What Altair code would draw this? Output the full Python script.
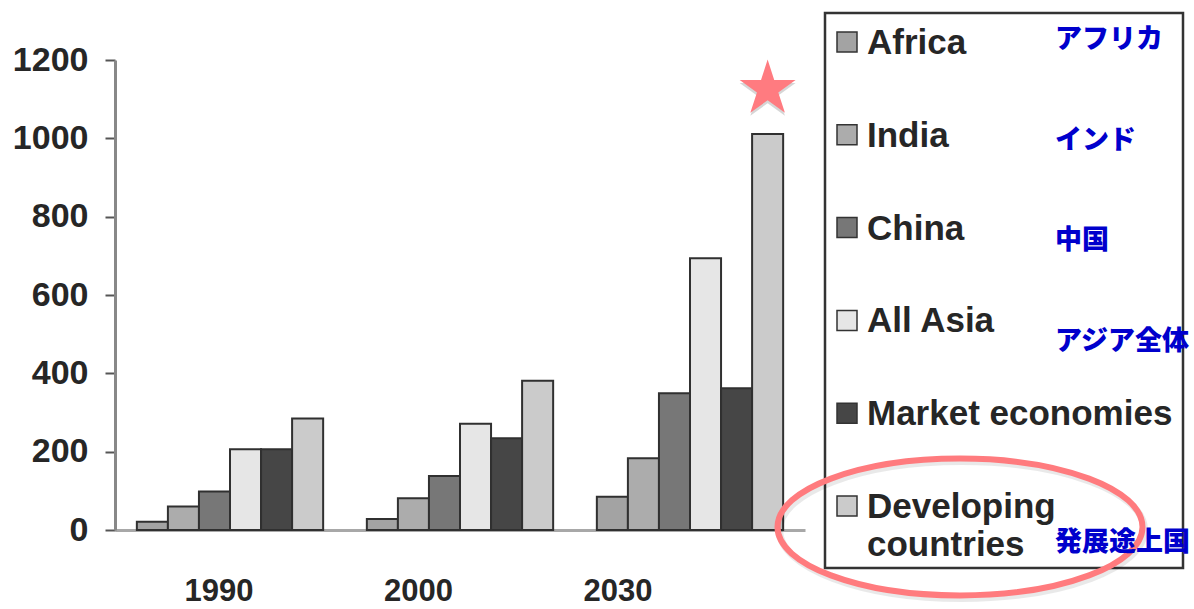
import altair as alt
import pandas as pd

# ---- data -------------------------------------------------------------
years = ["1990", "2000", "2030"]
series = ["Africa", "India", "China", "All Asia", "Market economies", "Developing countries"]
series_ja = ["アフリカ", "インド", "中国", "アジア全体", "", "発展途上国"]
legend_labels = ["Africa", "India", "China", "All Asia", "Market economies", "Developing\ncountries"]

africa = [21, 28, 85]
india = [60, 81, 183]
china = [98, 138, 349]
all_asia = [206, 271, 694]
market = [206, 234, 362]
developing = [285, 381, 1011]

y_ticks = [0, 200, 400, 600, 800, 1000, 1200]

# ---- styling ----------------------------------------------------------
fills = ["#a3a3a3", "#acacac", "#777777", "#e6e6e6", "#464646", "#cbcbcb"]
LATIN = "Liberation Sans"
CJK = "Noto Sans CJK JP"
TEXT = "#262626"

STAR = ("M0,-1 L0.2245,-0.309 L0.951,-0.309 L0.363,0.118 L0.588,0.809 "
        "L0,0.382 L-0.588,0.809 L-0.363,0.118 L-0.951,-0.309 L-0.2245,-0.309 Z")
ELLIPSE = "M-1,0 A1,0.375 0 1 1 1,0 A1,0.375 0 1 1 -1,0 Z"

rows = []
for name, vals in zip(series, [africa, india, china, all_asia, market, developing]):
    for yr, v in zip(years, vals):
        rows.append({"year": yr, "series": name, "value": v})
df = pd.DataFrame(rows)

legend_df = pd.DataFrame({"series": series, "label": legend_labels, "ja": series_ja})
year_df = pd.DataFrame({"year": years})
star_df = pd.DataFrame({"year": [years[2]], "series": [series[5]], "value": [developing[2]]})
one = pd.DataFrame({"k": [0]})

color = alt.Scale(domain=series, range=fills)


def x_band():
    return alt.Scale(domain=years, paddingInner=0.19, paddingOuter=0.095)


def offset_band():
    return alt.Scale(domain=series, paddingInner=0, paddingOuter=0)


def y_lin():
    return alt.Scale(domain=[0, 1200], nice=False)


# ---- grouped bars -----------------------------------------------------
bars = alt.Chart(df).mark_bar(stroke="#303030", strokeWidth=2).encode(
    x=alt.X("year:N", scale=x_band(),
            axis=alt.Axis(title=None, labels=False, ticks=False,
                          domainColor="#a8a8a8", domainWidth=3)),
    xOffset=alt.XOffset("series:N", scale=offset_band()),
    y=alt.Y("value:Q", scale=y_lin(),
            axis=alt.Axis(title=None, values=y_ticks, format="d", grid=False,
                          ticks=True, tickSize=10, tickWidth=2, tickColor="#555555",
                          domainColor="#888888", domainWidth=3,
                          labelFont=LATIN, labelFontWeight="bold",
                          labelFontSize=34, labelColor=TEXT, labelPadding=17)),
    fill=alt.Fill("series:N", scale=color, legend=None),
)


def star_layer(fill, opacity, dy):
    return alt.Chart(star_df).mark_point(
        shape=STAR, size=3460, filled=True, fill=fill, fillOpacity=opacity, strokeWidth=0
    ).encode(
        x=alt.X("year:N", scale=x_band(), axis=None),
        xOffset=alt.XOffset("series:N", scale=offset_band()),
        y=alt.Y("value:Q", scale=y_lin(), axis=None),
        yOffset=alt.value(dy),
    )


star_shadow = star_layer("#000000", 0.16, -42)
star = star_layer("#ff7b80", 1, -45)

# ---- year labels under the groups ---------------------------------------
year_labels = alt.Chart(year_df).mark_text(
    font=LATIN, fontWeight="bold", fontSize=31, color=TEXT, align="center", baseline="middle"
).encode(
    x=alt.X("year:N", scale=alt.Scale(type="point", domain=years, range=[104, 503], padding=0), axis=None),
    y=alt.value(532),
    text="year:N",
)

# ---- legend panel -------------------------------------------------------
legend_y = alt.Scale(type="point", domain=series, range=[-18, 446], padding=0)

box = alt.Chart(one).mark_rect(fill="white", stroke="#333333", strokeWidth=2.5).encode(
    x=alt.value(710), x2=alt.value(1068), y=alt.value(-47), y2=alt.value(508)
)
swatches = alt.Chart(legend_df).mark_square(size=400, stroke="#333333", strokeWidth=1.5, opacity=1).encode(
    x=alt.value(732),
    y=alt.Y("series:N", scale=legend_y, axis=None),
    fill=alt.Fill("series:N", scale=color, legend=None),
)
labels = alt.Chart(legend_df).mark_text(
    font=LATIN, fontWeight="bold", fontSize=35, color=TEXT, align="left",
    baseline="alphabetic", dy=12, lineBreak="\n", lineHeight=38
).encode(
    x=alt.value(752),
    y=alt.Y("series:N", scale=legend_y, axis=None),
    text="label:N",
)

# ---- highlight ring and Japanese names ----------------------------------
ring_shadow = alt.Chart(one).mark_point(
    shape=ELLIPSE, size=133225, filled=False, stroke="#000000", strokeOpacity=0.12, strokeWidth=7
).encode(x=alt.value(847), y=alt.value(470))
ring = alt.Chart(one).mark_point(
    shape=ELLIPSE, size=133225, filled=False, stroke="#ff7b7e", strokeWidth=6, opacity=1
).encode(x=alt.value(845), y=alt.value(467))

ja_labels = alt.Chart(legend_df).transform_filter("datum.ja != ''").mark_text(
    font=CJK, fontWeight=900, fontSize=27, color="#0000cc", align="left", baseline="middle"
).encode(
    x=alt.value(940),
    y=alt.Y("series:N", scale=alt.Scale(type="point", domain=series, range=[-20, 483], padding=0), axis=None),
    text="ja:N",
)

chart = alt.layer(
    bars, star_shadow, star, year_labels, box, swatches, labels, ring_shadow, ring, ja_labels
).resolve_scale(
    x="independent", y="independent"
).properties(
    width=690, height=470,
    background="white",
    autosize=alt.AutoSizeParams(type="none"),
    padding={"left": 115, "top": 60, "right": 389, "bottom": 79},
).configure_view(stroke=None)

chart.save("out.html", embed_options={"renderer": "svg", "actions": False})
